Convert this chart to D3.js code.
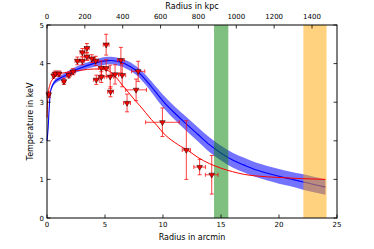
<!DOCTYPE html>
<html><head><meta charset="utf-8">
<script src="https://cdn.jsdelivr.net/npm/d3@7"></script>
<style>body{margin:0;background:#fff}svg{display:block}text{font-family:"DejaVu Sans",sans-serif}</style>
</head><body><svg id="c" width="374" height="249"></svg>
<script>
// Data
const ptX = [0.15, 0.57, 0.72, 1.04, 1.46, 1.88, 2.25, 2.62, 3.05, 3.05, 3.44, 3.44, 3.86, 4.2, 4.25, 4.68, 4.68, 5.1, 5.1, 5.48, 5.45, 5.87, 6.37, 6.48, 6.9, 7.68, 7.86, 9.95, 12.01, 13.16, 14.2];
const ptY = [3.2, 3.69, 3.74, 3.74, 3.54, 3.70, 3.79, 4.07, 4.29, 4.07, 4.40, 4.18, 4.13, 4.07, 3.58, 3.65, 3.89, 4.49, 3.88, 3.27, 3.66, 3.72, 4.09, 3.70, 2.98, 3.32, 3.80, 2.48, 1.76, 1.32, 1.12];
const ptYErr = [0.08, 0.07, 0.07, 0.07, 0.08, 0.07, 0.08, 0.1, 0.1, 0.1, 0.12, 0.1, 0.1, 0.12, 0.12, 0.14, 0.18, 0.27, 0.22, 0.13, 0.3, 0.25, 0.33, 0.3, 0.23, 0.28, 0.26, 0.37, 0.76, 0.2, 0.5];
const ptXErr = [0.15, 0.1, 0.1, 0.15, 0.15, 0.2, 0.2, 0.2, 0.2, 0.2, 0.2, 0.2, 0.25, 0.25, 0.25, 0.25, 0.25, 0.25, 0.25, 0.25, 0.3, 0.3, 0.3, 0.3, 0.3, 0.9, 0.57, 1.45, 0.35, 0.5, 0.55];

const blueX = [0, 0.05, 0.1, 0.2, 0.3, 0.5, 0.75, 1, 1.5, 2, 3, 4, 5, 5.5, 6, 6.5, 7, 7.5, 8, 8.5, 9, 10, 11, 12, 13, 14, 15, 16, 17, 18, 19, 20, 21, 22, 23, 24];
const blueY = [2.0, 2.15, 2.35, 2.9, 3.27, 3.45, 3.55, 3.6, 3.68, 3.77, 3.9, 4.0, 4.07, 4.08, 4.06, 4.02, 3.95, 3.86, 3.74, 3.58, 3.4, 3.03, 2.72, 2.44, 2.17, 1.9, 1.68, 1.5, 1.37, 1.25, 1.16, 1.08, 1.01, 0.94, 0.87, 0.8];
const blueErr = [0.02, 0.02, 0.03, 0.03, 0.04, 0.05, 0.06, 0.06, 0.07, 0.07, 0.08, 0.09, 0.1, 0.1, 0.1, 0.1, 0.11, 0.11, 0.12, 0.13, 0.14, 0.16, 0.17, 0.18, 0.18, 0.19, 0.19, 0.19, 0.19, 0.19, 0.19, 0.19, 0.19, 0.2, 0.2, 0.2];

const redX = [0, 0.05, 0.1, 0.25, 0.5, 1, 2, 3, 4, 4.5, 5, 5.5, 6, 6.5, 7, 7.5, 8, 8.5, 9, 9.5, 10, 10.5, 11, 11.5, 12, 13, 14, 15, 16, 17, 18, 20, 22, 24];
const redY = [2.6, 3.0, 3.2, 3.45, 3.6, 3.72, 3.79, 3.83, 3.86, 3.86, 3.84, 3.78, 3.63, 3.44, 3.26, 3.08, 2.91, 2.73, 2.55, 2.39, 2.21, 2.07, 1.96, 1.86, 1.78, 1.57, 1.41, 1.29, 1.2, 1.13, 1.09, 1.05, 1.02, 1.0];

const greenBand = [14.4, 15.63];
const orangeBand = [22.1, 24.1];

const xTicks = [0, 5, 10, 15, 20, 25];
const yTicks = [0, 1, 2, 3, 4, 5];
const kpcTicks = [0, 200, 400, 600, 800, 1000, 1200, 1400];
const kpcMax = 1532;

// Layout
const L = 47, R = 337, T = 25, B = 218;
const svg = d3.select("#c");
const x = d3.scaleLinear().domain([0, 25]).range([L, R]);
const xk = d3.scaleLinear().domain([0, kpcMax]).range([L, R]);
const y = d3.scaleLinear().domain([0, 5]).range([B, T]);

const g = svg.append("g");
const blue = blueX.map((v, i) => ({x: v, y: blueY[i], e: blueErr[i]}));
const red = redX.map((v, i) => ({x: v, y: redY[i]}));

// blue band
g.append("path").datum(blue)
  .attr("d", d3.area().x(d => x(d.x)).y0(d => y(d.y - d.e)).y1(d => y(d.y + d.e)).curve(d3.curveMonotoneX))
  .attr("fill", "blue").attr("fill-opacity", 0.55).attr("stroke", "none");
g.append("path").datum(blue)
  .attr("d", d3.line().x(d => x(d.x)).y(d => y(d.y)).curve(d3.curveMonotoneX))
  .attr("fill", "none").attr("stroke", "blue").attr("stroke-width", 1.1);

// vertical bands
g.append("rect").attr("x", x(greenBand[0])).attr("width", x(greenBand[1]) - x(greenBand[0]))
  .attr("y", T).attr("height", B - T).attr("fill", "green").attr("fill-opacity", 0.5);
g.append("rect").attr("x", x(orangeBand[0])).attr("width", x(orangeBand[1]) - x(orangeBand[0]))
  .attr("y", T).attr("height", B - T).attr("fill", "orange").attr("fill-opacity", 0.5);

// red curve
g.append("path").datum(red)
  .attr("d", d3.line().x(d => x(d.x)).y(d => y(d.y)).curve(d3.curveMonotoneX))
  .attr("fill", "none").attr("stroke", "red").attr("stroke-width", 1);

// error bars
const pts = ptX.map((v, i) => ({x: v, y: ptY[i], ex: ptXErr[i], ey: ptYErr[i]}));
const eb = g.append("g").attr("stroke", "red").attr("stroke-width", 1).attr("stroke-opacity", 0.75);
pts.forEach(d => {
  eb.append("line").attr("x1", x(d.x)).attr("x2", x(d.x)).attr("y1", y(d.y - d.ey)).attr("y2", y(d.y + d.ey));
  eb.append("line").attr("x1", x(d.x - d.ex)).attr("x2", x(d.x + d.ex)).attr("y1", y(d.y)).attr("y2", y(d.y));
  [d.y - d.ey, d.y + d.ey].forEach(v => eb.append("line").attr("x1", x(d.x) - 2).attr("x2", x(d.x) + 2).attr("y1", y(v)).attr("y2", y(v)));
  [d.x - d.ex, d.x + d.ex].forEach(v => eb.append("line").attr("x1", x(v)).attr("x2", x(v)).attr("y1", y(d.y) - 2).attr("y2", y(d.y) + 2));
});
const tri = d3.symbol().type(d3.symbolTriangle).size(14);
g.append("g").selectAll("path").data(pts).join("path")
  .attr("d", tri).attr("transform", d => `translate(${x(d.x)},${y(d.y)}) rotate(180)`)
  .attr("fill", "red").attr("stroke", "black").attr("stroke-width", 0.5);

// frame
svg.append("rect").attr("x", L).attr("y", T).attr("width", R - L).attr("height", B - T)
  .attr("fill", "none").attr("stroke", "black").attr("stroke-width", 1);

// axes (ticks inward)
const tl = 3.5;
const ax = svg.append("g").attr("stroke", "black").attr("stroke-width", 0.8);
xTicks.forEach(t => {
  ax.append("line").attr("x1", x(t)).attr("x2", x(t)).attr("y1", B).attr("y2", B - tl);
  svg.append("text").attr("x", x(t)).attr("y", 227.3).attr("text-anchor", "middle").attr("font-size", 7).text(t);
});
kpcTicks.forEach(t => {
  ax.append("line").attr("x1", xk(t)).attr("x2", xk(t)).attr("y1", T).attr("y2", T + tl);
  svg.append("text").attr("x", xk(t)).attr("y", 19).attr("text-anchor", "middle").attr("font-size", 7).text(t);
});
yTicks.forEach(t => {
  ax.append("line").attr("x1", L).attr("x2", L + tl).attr("y1", y(t)).attr("y2", y(t));
  ax.append("line").attr("x1", R).attr("x2", R - tl).attr("y1", y(t)).attr("y2", y(t));
  svg.append("text").attr("x", 44).attr("y", y(t) + 2.5).attr("text-anchor", "end").attr("font-size", 7).text(t);
});
svg.append("text").attr("x", (L + R) / 2).attr("y", 240).attr("text-anchor", "middle").attr("font-size", 8).text("Radius in arcmin");
svg.append("text").attr("x", (L + R) / 2).attr("y", 8.5).attr("text-anchor", "middle").attr("font-size", 8).text("Radius in kpc");
svg.append("text").attr("transform", `translate(33,${(T + B) / 2}) rotate(-90)`).attr("text-anchor", "middle").attr("font-size", 8).text("Temperature in keV");
</script></body></html>
